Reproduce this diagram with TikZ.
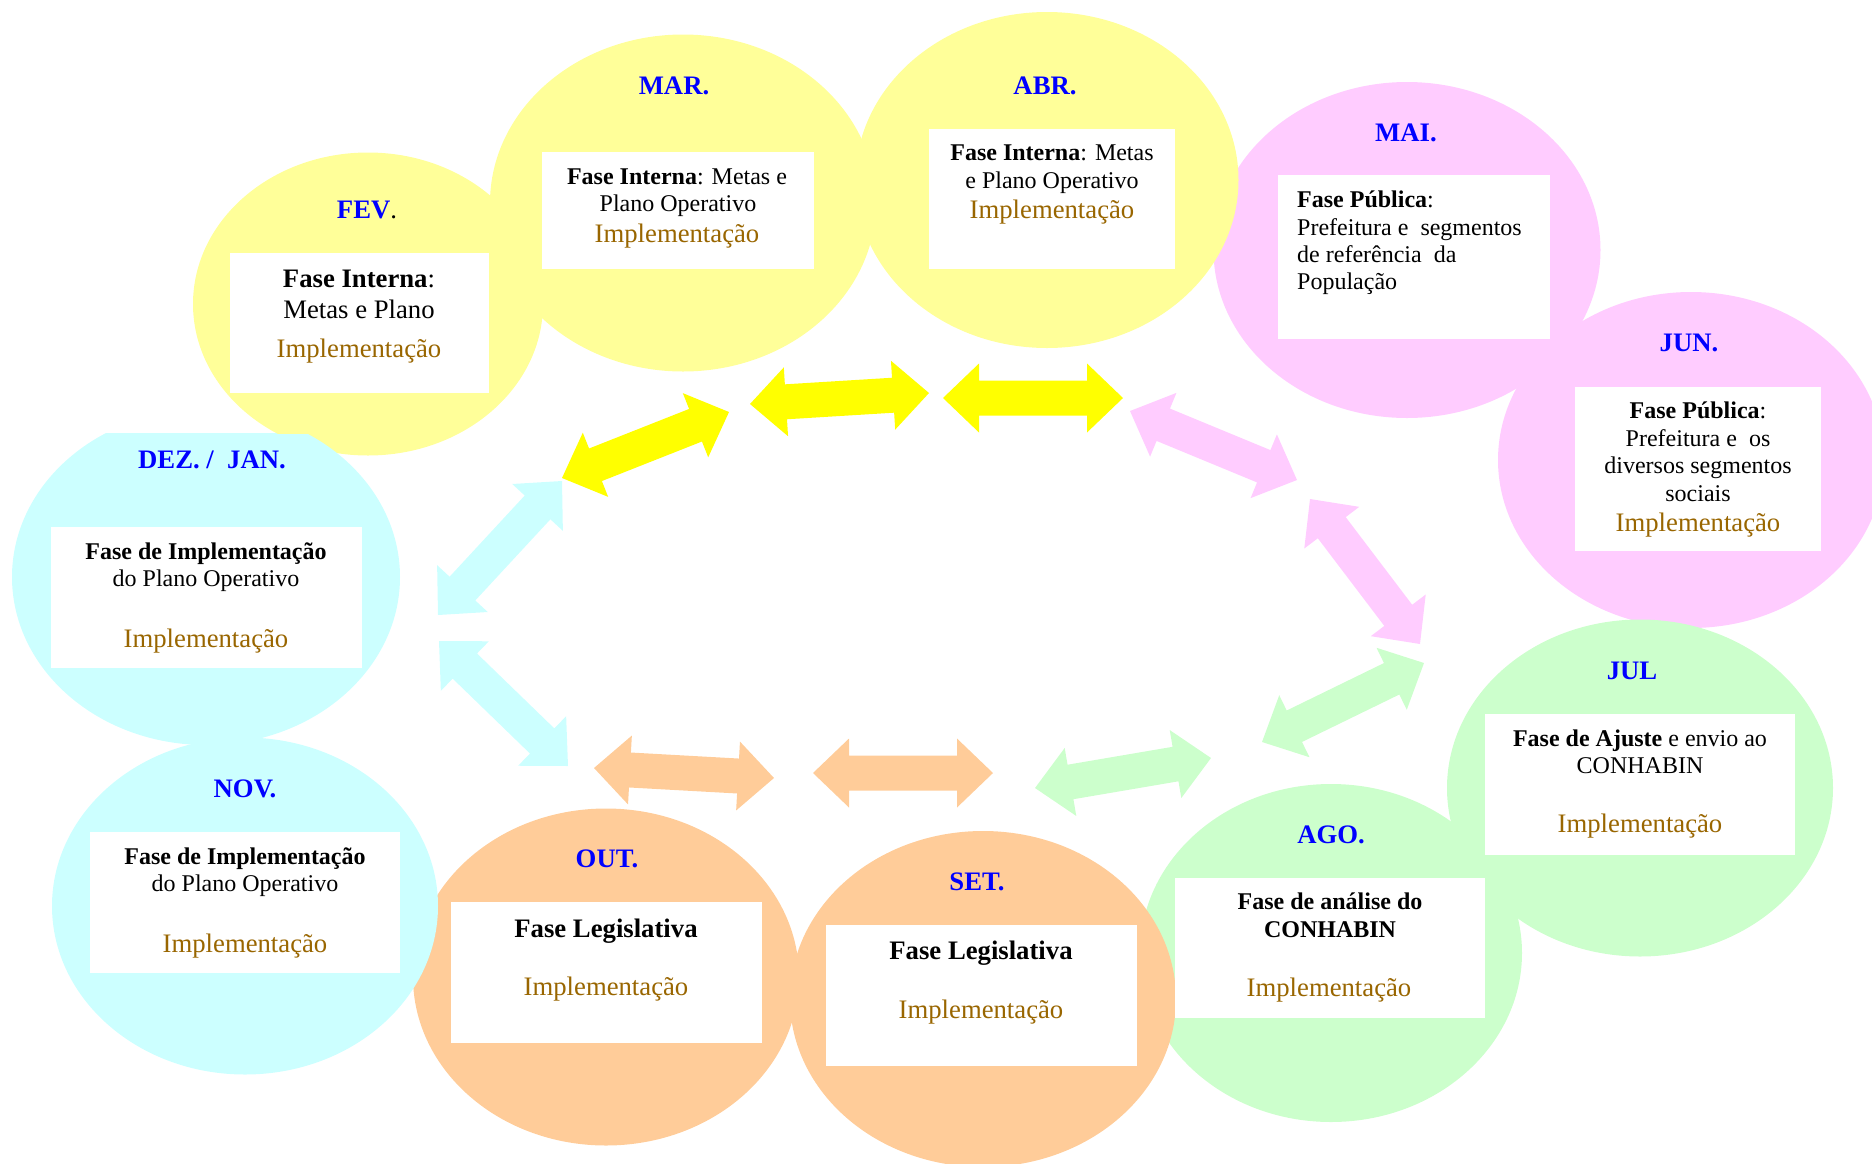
\documentclass[tikz,border=0pt]{standalone}
\usepackage{fontspec}
\setmainfont{Liberation Serif}
\usetikzlibrary{calc,shapes.geometric}
\definecolor{yelL}{HTML}{FFFF99}
\definecolor{yelA}{HTML}{FFFF00}
\definecolor{pinkL}{HTML}{FFCCFF}
\definecolor{cyanL}{HTML}{CCFFFF}
\definecolor{greenL}{HTML}{CCFFCC}
\definecolor{orangeL}{HTML}{FFCC99}
\definecolor{monthblue}{HTML}{0000FF}
\definecolor{implbrown}{HTML}{996600}
\newcommand\szA{\fontsize{26.7}{30}\selectfont}
\newcommand\szB{\fontsize{24}{28}\selectfont}
% double-headed block arrow between two named coordinates
\newcommand\blockarrow[3]{%
  \fill[#3] (#1)
  -- ($(#1)!36pt!(#2)!34.5pt!90:(#2)$)
  -- ($(#1)!36pt!(#2)!17.5pt!90:(#2)$)
  -- ($(#2)!36pt!(#1)!17.5pt!-90:(#1)$)
  -- ($(#2)!36pt!(#1)!34.5pt!-90:(#1)$)
  -- (#2)
  -- ($(#2)!36pt!(#1)!34.5pt!90:(#1)$)
  -- ($(#2)!36pt!(#1)!17.5pt!90:(#1)$)
  -- ($(#1)!36pt!(#2)!17.5pt!-90:(#2)$)
  -- ($(#1)!36pt!(#2)!34.5pt!-90:(#2)$)
  -- cycle;}
\begin{document}
\begin{tikzpicture}[x=1pt,y=-1pt,
  oval/.style={ellipse, draw=none, inner sep=0pt},
  wbox/.style={rectangle, fill=white, draw=none, inner sep=0pt},
  month/.style={anchor=base, font=\szA\bfseries, text=monthblue, inner sep=0pt},
  txtA/.style={anchor=base, font=\szA, inner sep=0pt},
  txtB/.style={anchor=base, font=\szB, inner sep=0pt},
  txtBl/.style={anchor=base west, font=\szB, inner sep=0pt},
  impl/.style={anchor=base, font=\szA, text=implbrown, inner sep=0pt}]
\useasboundingbox (0,0) rectangle (1872,1163);
\clip (0,0) rectangle (1872,1163);
% ellipses
\node[oval, fill=yelL, minimum width=350pt, minimum height=303pt] (fev) at (368,304) {};
\node[oval, fill=yelL, minimum width=386pt, minimum height=337pt] (mar) at (683,203) {};
\node[oval, fill=pinkL, minimum width=387pt, minimum height=336pt] (mai) at (1407,250) {};
\node[oval, fill=yelL, minimum width=383pt, minimum height=336pt] (abr) at (1047,180) {};
\node[oval, fill=pinkL, minimum width=386pt, minimum height=336pt] (jun) at (1691,460) {};
\node[oval, fill=greenL, minimum width=386pt, minimum height=337pt] (jul) at (1640,788) {};
\node[oval, fill=greenL, minimum width=382pt, minimum height=338pt] (ago) at (1331,953) {};
\node[oval, fill=orangeL, minimum width=386pt, minimum height=336pt] (set) at (983,999) {};
\node[oval, fill=orangeL, minimum width=386pt, minimum height=337pt] (out) at (606,977) {};
\node[oval, fill=cyanL, minimum width=386pt, minimum height=337pt] (nov) at (245,906) {};
\node[oval, fill=cyanL, minimum width=388pt, minimum height=336pt] (dez) at (206,577) {};
% notch at the top of the DEZ/JAN oval
\begin{scope}
  \clip (0,395) rectangle (323,433);
  \fill[white] (0,395) rectangle (323,433);
  \fill[yelL] (368,304) ellipse [x radius=175pt, y radius=151.5pt];
\end{scope}
% white boxes
\node[wbox, minimum width=259pt, minimum height=140pt] (fevbox) at (359.5,323) {};
\node[wbox, minimum width=272pt, minimum height=117pt] (marbox) at (678,210.5) {};
\node[wbox, minimum width=246pt, minimum height=140pt] (abrbox) at (1052,199) {};
\node[wbox, minimum width=272pt, minimum height=164pt] (maibox) at (1414,257) {};
\node[wbox, minimum width=246pt, minimum height=164pt] (junbox) at (1698,469) {};
\node[wbox, minimum width=310pt, minimum height=141pt] (julbox) at (1640,784.5) {};
\node[wbox, minimum width=310pt, minimum height=140pt] (agobox) at (1330,948) {};
\node[wbox, minimum width=311pt, minimum height=141pt] (setbox) at (981.5,995.5) {};
\node[wbox, minimum width=311pt, minimum height=141pt] (outbox) at (606.5,972.5) {};
\node[wbox, minimum width=310pt, minimum height=141pt] (novbox) at (245,902.5) {};
\node[wbox, minimum width=311pt, minimum height=141pt] (dezbox) at (206.5,597.5) {};
% FEV
\node[month] (fevl) at (367,218) {FEV{\color{black}\mdseries.}};
\node[txtA] (fev1) at (359,287) {\textbf{Fase Interna}:};
\node[txtA] (fev2) at (359,318) {Metas e Plano};
\node[impl] (fev3) at (359,357) {Implementação};
% MAR
\node[month] (marl) at (674,94) {MAR.};
\node[txtB] (mar1) at (677,184) {\textbf{Fase Interna}: Metas e};
\node[txtB] (mar2) at (678,211) {Plano Operativo};
\node[impl] (mar3) at (677,242) {Implementação};
% ABR
\node[month] (abrl) at (1045,94) {ABR.};
\node[txtB] (abr1) at (1052,160) {\textbf{Fase Interna}: Metas};
\node[txtB] (abr2) at (1052,188) {e Plano Operativo};
\node[impl] (abr3) at (1052,218) {Implementação};
% MAI
\node[month] (mail) at (1406,141) {MAI.};
\node[txtBl] (mai1) at (1297,207) {\textbf{Fase Pública}:};
\node[txtBl] (mai2) at (1297,235) {Prefeitura e \ segmentos};
\node[txtBl] (mai3) at (1297,262) {de referência \ da};
\node[txtBl] (mai4) at (1297,289) {População};
% JUN
\node[month] (junl) at (1689,351) {JUN.};
\node[txtB] (jun1) at (1698,418) {\textbf{Fase Pública}:};
\node[txtB] (jun2) at (1698,446) {Prefeitura e \ os};
\node[txtB] (jun3) at (1698,473) {diversos segmentos};
\node[txtB] (jun4) at (1698,501) {sociais};
\node[impl] (jun5) at (1698,531) {Implementação};
% JUL
\node[month] (jull) at (1632,679) {JUL};
\node[txtB] (jul1) at (1640,746) {\textbf{Fase de Ajuste} e envio ao};
\node[txtB] (jul2) at (1640,773) {CONHABIN};
\node[impl] (jul3) at (1640,832) {Implementação};
% AGO
\node[month] (agol) at (1331,843) {AGO.};
\node[txtB] (ago1) at (1330,909) {\textbf{Fase de análise do}};
\node[txtB] (ago2) at (1330,937) {\textbf{CONHABIN}};
\node[impl] (ago3) at (1329,996) {Implementação};
% SET
\node[month] (setl) at (977,890) {SET.};
\node[txtA] (set1) at (981,959) {\textbf{Fase Legislativa}};
\node[impl] (set2) at (981,1018) {Implementação};
% OUT
\node[month] (outl) at (607,867) {OUT.};
\node[txtA] (out1) at (606,937) {\textbf{Fase Legislativa}};
\node[impl] (out2) at (606,995) {Implementação};
% NOV
\node[month] (novl) at (245,797) {NOV.};
\node[txtB] (nov1) at (245,864) {\textbf{Fase de Implementação}};
\node[txtB] (nov2) at (245,891) {do Plano Operativo};
\node[impl] (nov3) at (245,952) {Implementação};
% DEZ / JAN
\node[month] (dezl) at (212,468) {DEZ. / \ JAN.};
\node[txtB] (dez1) at (206,559) {\textbf{Fase de Implementação}};
\node[txtB] (dez2) at (206,586) {do Plano Operativo};
\node[impl] (dez3) at (206,647) {Implementação};
% arrow end points
\coordinate (a1s) at (562,478);  \coordinate (a1e) at (729,412);
\coordinate (a2s) at (750,404);  \coordinate (a2e) at (929,393);
\coordinate (a3s) at (943,398);  \coordinate (a3e) at (1123,398);
\coordinate (a4s) at (1130,411); \coordinate (a4e) at (1297,480);
\coordinate (a5s) at (1310,499); \coordinate (a5e) at (1420,644);
\coordinate (a6s) at (1424,663); \coordinate (a6e) at (1262,742);
\coordinate (a7s) at (1211,758); \coordinate (a7e) at (1035,788);
\coordinate (a8s) at (993,773);  \coordinate (a8e) at (813,773);
\coordinate (a9s) at (774,778);  \coordinate (a9e) at (594,768);
\coordinate (a10s) at (568,766); \coordinate (a10e) at (439,641);
\coordinate (a11s) at (438,615); \coordinate (a11e) at (562,481);
% arrows
\blockarrow{a1s}{a1e}{yelA}
\blockarrow{a2s}{a2e}{yelA}
\blockarrow{a3s}{a3e}{yelA}
\blockarrow{a4s}{a4e}{pinkL}
\blockarrow{a5s}{a5e}{pinkL}
\blockarrow{a6s}{a6e}{greenL}
\blockarrow{a7s}{a7e}{greenL}
\blockarrow{a8s}{a8e}{orangeL}
\blockarrow{a9s}{a9e}{orangeL}
\blockarrow{a10s}{a10e}{cyanL}
\blockarrow{a11s}{a11e}{cyanL}
\end{tikzpicture}
\end{document}
